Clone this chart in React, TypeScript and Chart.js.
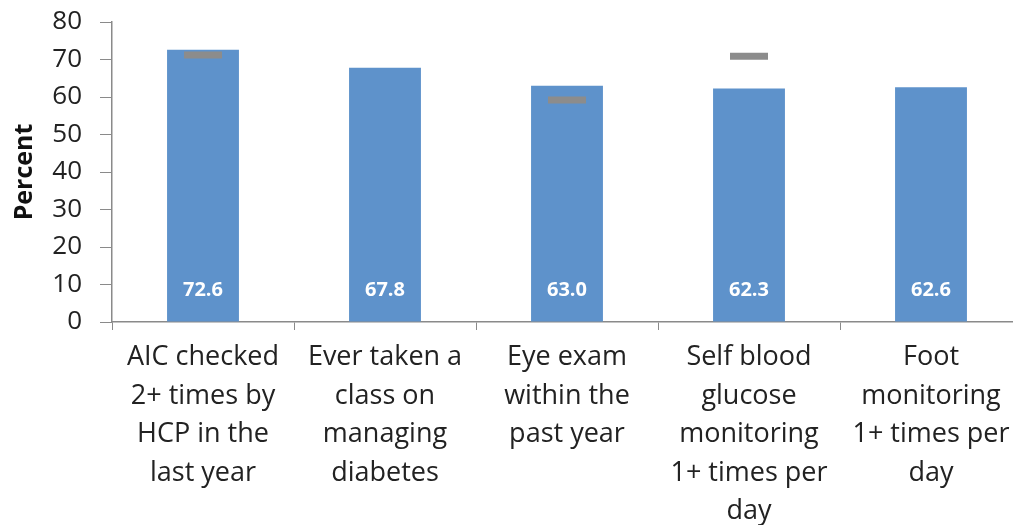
import React, { useEffect, useRef } from "react";
import { Chart, registerables } from "chart.js";

Chart.register(...registerables);

const categories: string[][] = [
  ["AIC checked", "2+ times by", "HCP in the", "last year"],
  ["Ever taken a", "class on", "managing", "diabetes"],
  ["Eye exam", "within the", "past year"],
  ["Self blood", "glucose", "monitoring", "1+ times per", "day"],
  ["Foot", "monitoring", "1+ times per", "day"],
];
const percentValues: number[] = [72.6, 67.8, 63.0, 62.3, 62.6];
const targetValues: (number | null)[] = [71.2, null, 59.2, 70.9, null];
const yTicks: number[] = [0, 10, 20, 30, 40, 50, 60, 70, 80];

const FONT = "'Open Sans', Lato, sans-serif";

const valueLabelPlugin = {
  id: "valueLabels",
  afterDatasetsDraw(chart: any) {
    const meta = chart.getDatasetMeta(1);
    const yScale = chart.scales.y;
    const ctx = chart.ctx;
    ctx.save();
    ctx.fillStyle = "#ffffff";
    ctx.font = `bold 20px ${FONT}`;
    ctx.textAlign = "center";
    ctx.textBaseline = "middle";
    meta.data.forEach((bar: any, i: number) => {
      ctx.fillText(percentValues[i].toFixed(1), bar.x, yScale.getPixelForValue(0) - 32);
    });
    ctx.restore();
  },
};

export default function App() {
  const ref = useRef<HTMLCanvasElement | null>(null);
  useEffect(() => {
    if (!ref.current) return;
    const chart = new Chart(ref.current, {
      type: "bar",
      data: {
        labels: categories,
        datasets: [
          {
            type: "line",
            label: "Target",
            data: targetValues,
            showLine: false,
            pointStyle: "line",
            pointRadius: 19,
            pointHoverRadius: 19,
            pointBorderWidth: 7,
            borderColor: "#8c8c8c",
            backgroundColor: "#8c8c8c",
            order: 0,
          } as any,
          {
            type: "bar",
            label: "Percent",
            data: percentValues,
            backgroundColor: "#5e92cb",
            borderWidth: 0,
            categoryPercentage: 1,
            barPercentage: 0.395,
            order: 1,
          },
        ],
      },
      options: {
        responsive: false,
        animation: false,
        layout: { autoPadding: false, padding: { top: 22, right: 0, left: 0, bottom: 0 } },
        plugins: {
          legend: { display: false },
          tooltip: { enabled: false },
        },
        scales: {
          x: {
            offset: true,
            grid: {
              display: true,
              drawOnChartArea: false,
              offset: true,
              tickLength: 8,
              color: "#8a8a8a",
            },
            border: { color: "#8a8a8a", width: 1.5 },
            ticks: {
              autoSkip: false,
              maxRotation: 0,
              minRotation: 0,
              padding: 8,
              color: "#222",
              font: { family: FONT, size: 27, lineHeight: 1.43 },
            },
            afterFit: (s: any) => {
              s.height = 203;
              s.paddingLeft = 0;
              s.paddingRight = 0;
            },
          },
          y: {
            min: 0,
            max: 80,
            afterBuildTicks: (s: any) => {
              s.ticks = yTicks.map((v) => ({ value: v }));
            },
            grid: {
              display: true,
              drawOnChartArea: false,
              tickLength: 12,
              color: "#8a8a8a",
            },
            border: { color: "#8a8a8a", width: 1.5 },
            ticks: {
              padding: 18,
              color: "#222",
              font: { family: FONT, size: 26 },
            },
            title: {
              display: true,
              text: "Percent",
              color: "#111",
              font: { family: FONT, size: 25, weight: "bold" },
              padding: { top: 10, bottom: 0 },
            },
            afterFit: (s: any) => {
              s.width = 112;
              s.paddingTop = 0;
              s.paddingBottom = 0;
            },
          },
        },
      },
      plugins: [valueLabelPlugin],
    });
    return () => chart.destroy();
  }, []);
  return (
    <div style={{ position: "absolute", left: 0, top: 0, width: 1013, height: 525, background: "#fff", overflow: "hidden" }}>
      <canvas ref={ref} width={1022} height={525} />
    </div>
  );
}
